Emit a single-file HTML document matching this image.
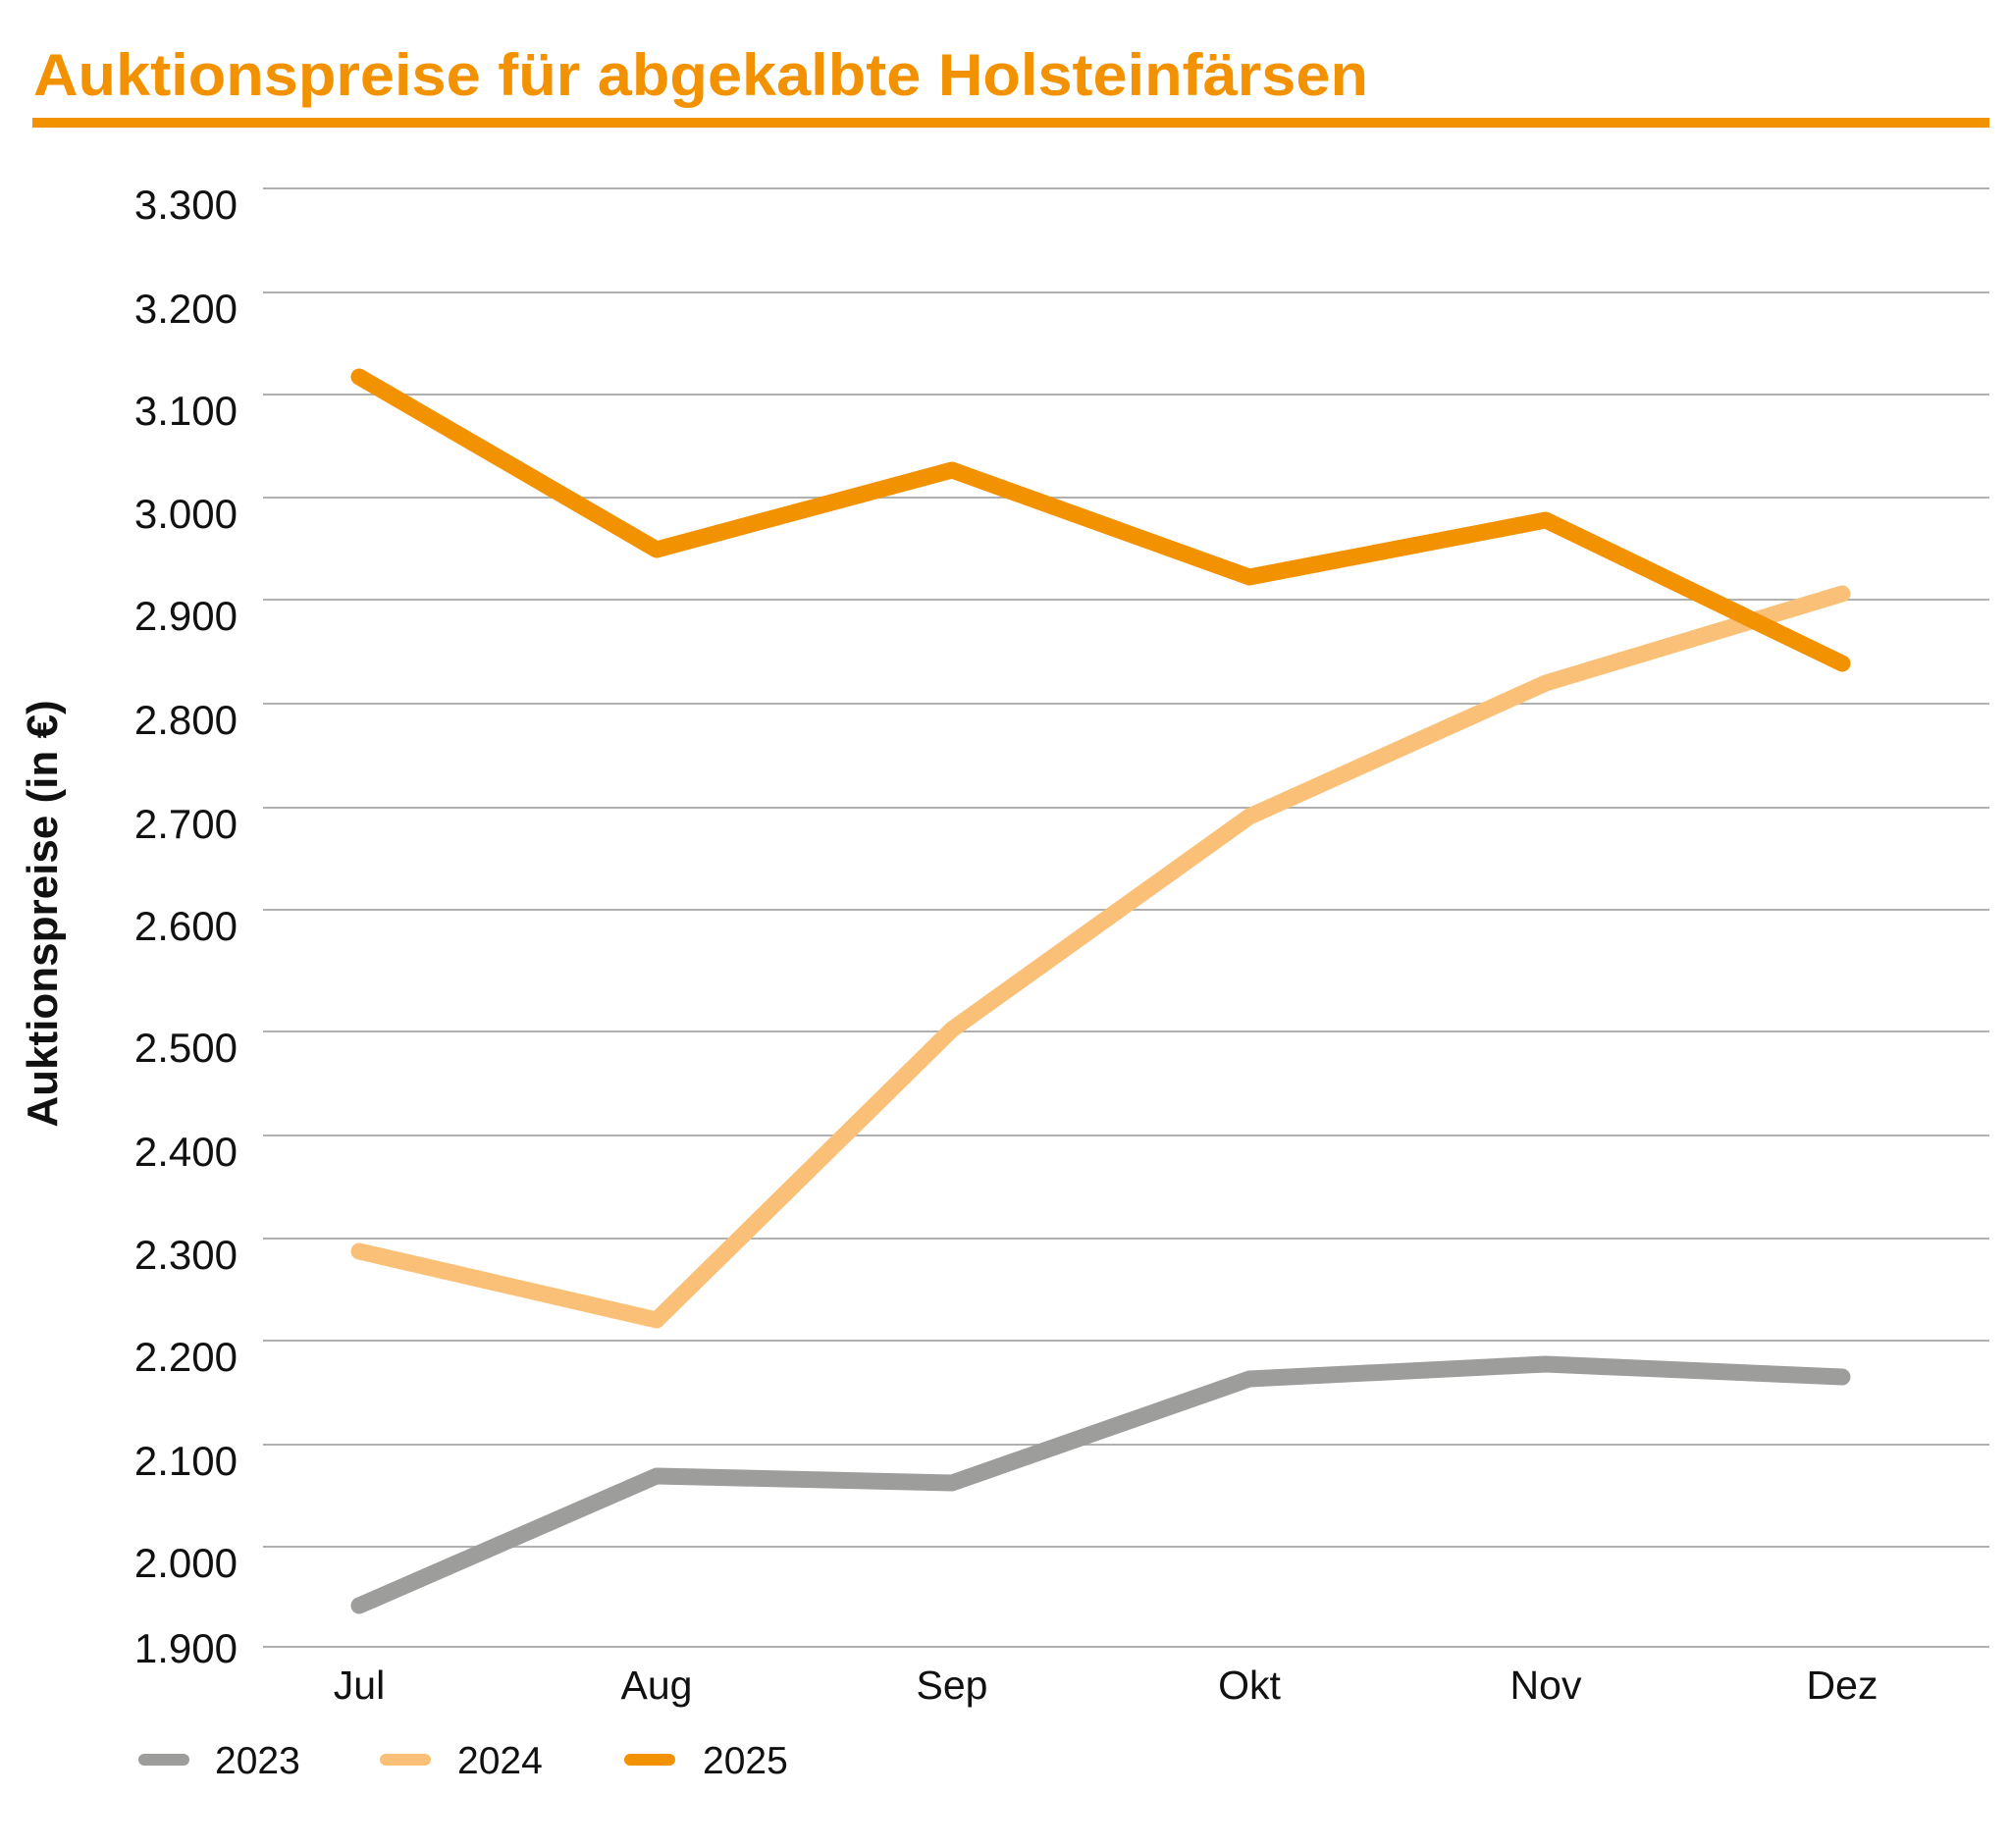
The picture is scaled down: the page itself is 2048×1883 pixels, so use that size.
<!DOCTYPE html>
<html><head><meta charset="utf-8"><style>
html,body{margin:0;padding:0;background:#fff;}
svg{display:block;}
text{font-family:"Liberation Sans","DejaVu Sans",sans-serif;}
</style></head><body>
<svg width="2048" height="1883" viewBox="0 0 2048 1883" xmlns="http://www.w3.org/2000/svg">
<rect width="2048" height="1883" fill="#fff"/>
<text x="34" y="97" font-size="60" font-weight="bold" fill="#F39200" textLength="1360" lengthAdjust="spacingAndGlyphs">Auktionspreise für abgekalbte Holsteinfärsen</text>
<rect x="33" y="120" width="1994" height="10" fill="#F39200"/>
<g stroke="#b0b0b0" stroke-width="2">
<line x1="268" x2="2027" y1="192" y2="192"/>
<line x1="268" x2="2027" y1="298" y2="298"/>
<line x1="268" x2="2027" y1="402" y2="402"/>
<line x1="268" x2="2027" y1="507" y2="507"/>
<line x1="268" x2="2027" y1="611" y2="611"/>
<line x1="268" x2="2027" y1="717" y2="717"/>
<line x1="268" x2="2027" y1="823" y2="823"/>
<line x1="268" x2="2027" y1="927" y2="927"/>
<line x1="268" x2="2027" y1="1051" y2="1051"/>
<line x1="268" x2="2027" y1="1157" y2="1157"/>
<line x1="268" x2="2027" y1="1262" y2="1262"/>
<line x1="268" x2="2027" y1="1366" y2="1366"/>
<line x1="268" x2="2027" y1="1472" y2="1472"/>
<line x1="268" x2="2027" y1="1576" y2="1576"/>
<line x1="268" x2="2027" y1="1678" y2="1678"/>
</g>
<g font-size="42" fill="#111" text-anchor="end">
<text x="242" y="223">3.300</text>
<text x="242" y="329">3.200</text>
<text x="242" y="433">3.100</text>
<text x="242" y="538">3.000</text>
<text x="242" y="642">2.900</text>
<text x="242" y="748">2.800</text>
<text x="242" y="854">2.700</text>
<text x="242" y="958">2.600</text>
<text x="242" y="1082">2.500</text>
<text x="242" y="1188">2.400</text>
<text x="242" y="1293">2.300</text>
<text x="242" y="1397">2.200</text>
<text x="242" y="1503">2.100</text>
<text x="242" y="1607">2.000</text>
<text x="242" y="1694">1.900</text>
</g>
<g font-size="41" fill="#111" text-anchor="middle">
<text x="366" y="1731">Jul</text>
<text x="669" y="1731">Aug</text>
<text x="970" y="1731">Sep</text>
<text x="1273" y="1731">Okt</text>
<text x="1575" y="1731">Nov</text>
<text x="1877" y="1731">Dez</text>
</g>
<text transform="translate(58,931) rotate(-90)" font-size="44" font-weight="bold" fill="#111" text-anchor="middle">Auktionspreise (in €)</text>
<g fill="none" stroke-width="17" stroke-linecap="round" stroke-linejoin="round">
<polyline stroke="#9D9D9C" points="366,1636 669,1504 970,1511 1273,1405 1575,1390 1877,1403"/>
<polyline stroke="#FBC077" points="366,1275 669,1345 970,1049 1273,832 1575,696 1877,605"/>
<polyline stroke="#F39200" points="366,384 669,560 970,479 1273,588 1575,530 1877,676"/>
</g>
<g stroke-width="12" stroke-linecap="round">
<line x1="147" x2="187" y1="1793" y2="1793" stroke="#9D9D9C"/>
<line x1="393" x2="433" y1="1793" y2="1793" stroke="#FBC077"/>
<line x1="642" x2="682" y1="1793" y2="1793" stroke="#F39200"/>
</g>
<g font-size="39" fill="#111">
<text x="219" y="1807">2023</text>
<text x="466" y="1807">2024</text>
<text x="716" y="1807">2025</text>
</g>
</svg>
</body></html>
